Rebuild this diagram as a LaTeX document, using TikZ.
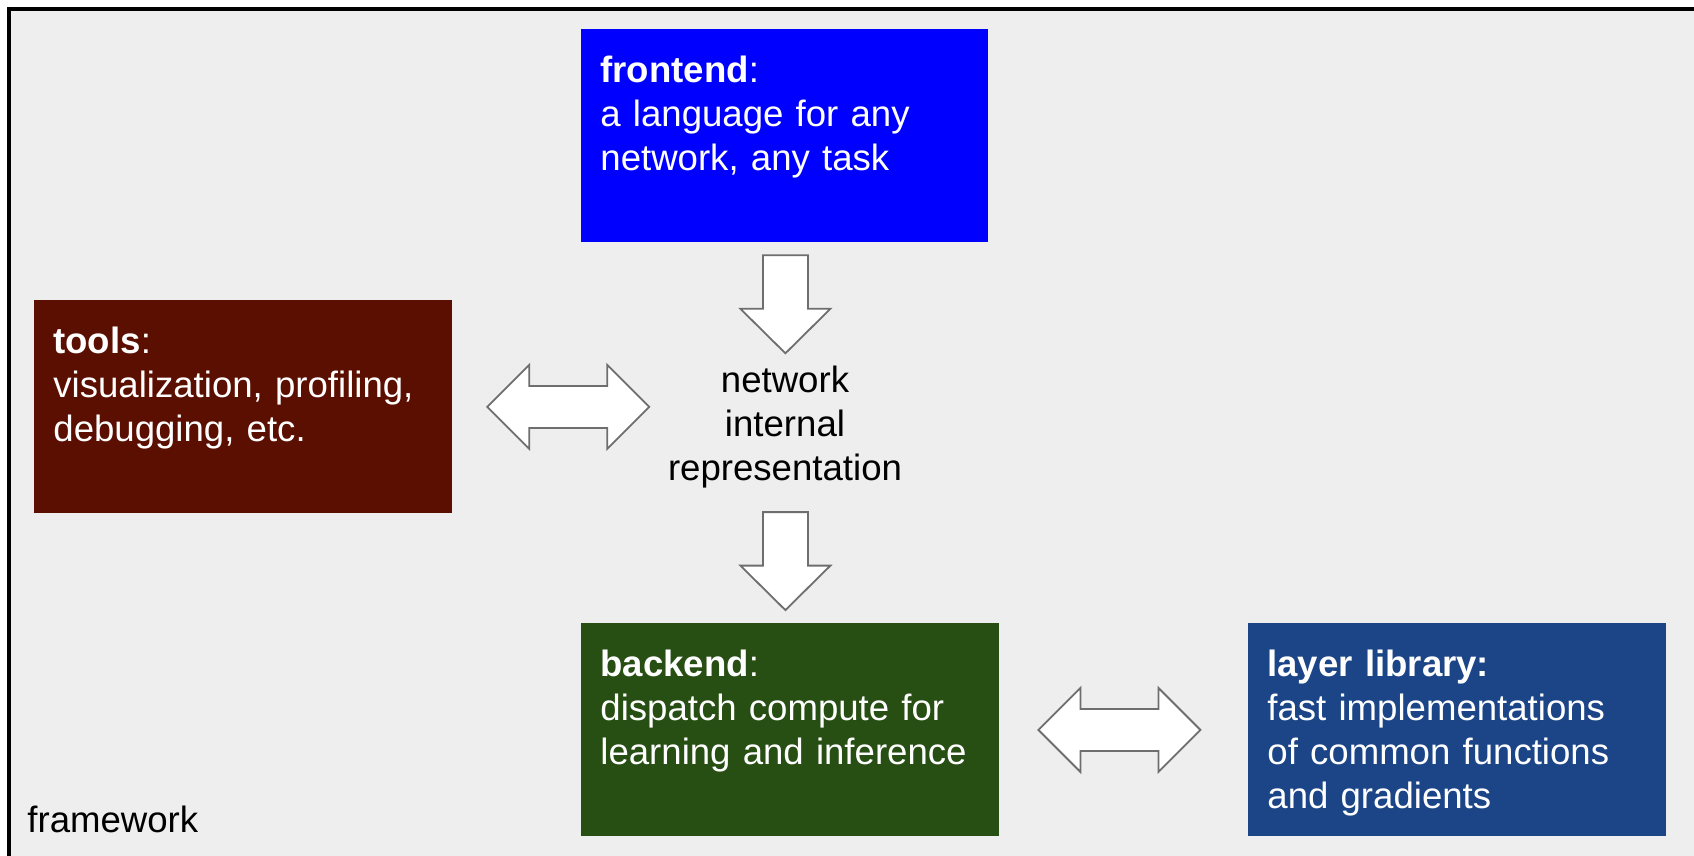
\documentclass[tikz,border=0pt]{standalone}
\usepackage{fontspec}
\setmainfont{Liberation Sans}
\usetikzlibrary{calc}
\definecolor{panelbg}{HTML}{EEEEEE}
\definecolor{feblue}{HTML}{0000FF}
\definecolor{toolred}{HTML}{5B0F00}
\definecolor{begreen}{HTML}{274E13}
\definecolor{libblue}{HTML}{1C4587}
\definecolor{arrowedge}{HTML}{6E6E6E}
\begin{document}
\begin{tikzpicture}[x=0.5pt,y=-0.5pt,
  box/.style={anchor=north west, inner sep=0pt, minimum height=106.5pt, draw=none},
  boxtext/.style={anchor=base west, inner sep=0pt, text width=205pt, align=left,
    text=white, font=\fontsize{18.3pt}{22pt}\selectfont},
  plaintext/.style={inner sep=0pt, text=black, font=\fontsize{18.3pt}{22pt}\selectfont},
  blockarrow/.style={fill=white, draw=arrowedge, line width=0.9pt, line join=miter},
  pics/downarrow/.style={code={
    \draw[blockarrow] (-22.5,0) -- ++(45,0) -- ++(0,53.5) -- ++(22.5,0)
      -- ++(-45,44.5) -- ++(-45,-44.5) -- ++(22.5,0) -- cycle;}},
  pics/dblarrow/.style={code={
    \draw[blockarrow] (-81,0) -- ++(42,-42) -- ++(0,21) -- ++(78,0) -- ++(0,-21)
      -- ++(42,42) -- ++(-42,42) -- ++(0,-21) -- ++(-78,0) -- ++(0,21) -- cycle;}}]

\useasboundingbox (0,0) rectangle (1694,856);
\clip (0,0) rectangle (1694,856);

% page and framework panel
\fill[white] (0,0) rectangle (1694,856);
\fill[panelbg] (9,9) rectangle (1700,870);
\draw[line width=2pt, line join=miter] (9,870) -- (9,9) -- (1700,9);

% coloured component boxes
\node[box, fill=feblue, minimum width=203.5pt] (fe) at (581,29) {};
\node[box, fill=toolred, minimum width=209pt] (tools) at (34,300) {};
\node[box, fill=begreen, minimum width=209pt] (be) at (581,622.7) {};
\node[box, fill=libblue, minimum width=209pt] (lib) at (1248,622.7) {};

% box captions
\node[boxtext] (fetext) at ($(fe.north west)+(19,53.5)$)
  {\textbf{frontend}:\\a language for any\\network, any task};
\node[boxtext] (toolstext) at ($(tools.north west)+(19,53.5)$)
  {\textbf{tools}:\\visualization, profiling,\\debugging, etc.};
\node[boxtext] (betext) at ($(be.north west)+(19,53.5)$)
  {\textbf{backend}:\\dispatch compute for\\learning and inference};
\node[boxtext] (libtext) at ($(lib.north west)+(19,53.5)$)
  {\textbf{layer library:}\\fast implementations\\of common functions\\and gradients};

% internal representation in the middle
\node[plaintext, anchor=base, text width=150pt, align=center] (rep) at (785,392.7)
  {network\\internal\\representation};

% panel label
\node[plaintext, anchor=base west] (fw) at (27,832) {framework};

% block arrows between the parts
\coordinate (d1) at ($(fe.south)+(0.5,12.5)$);
\coordinate (d2) at ($(d1)+(0,256.8)$);
\coordinate (l1) at ($(tools.east)+(115.5,0)$);
\coordinate (r1) at ($(be.east)+(119.6,0.3)$);
\pic at (d1) {downarrow};
\pic at (d2) {downarrow};
\pic at (l1) {dblarrow};
\pic at (r1) {dblarrow};
\end{tikzpicture}
\end{document}
